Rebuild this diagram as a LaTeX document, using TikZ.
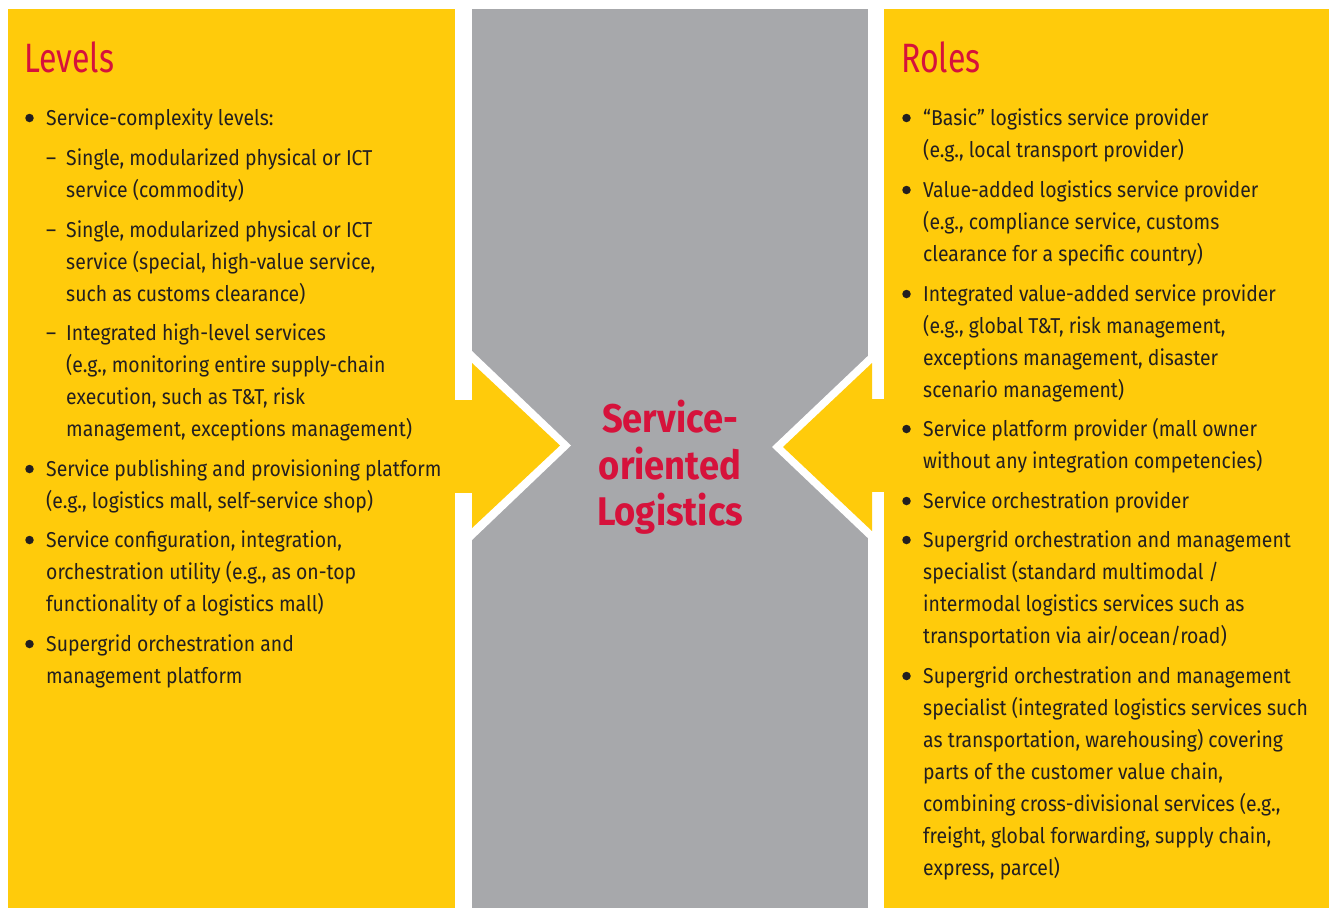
\documentclass[tikz,border=0pt]{standalone}
\usepackage{fontspec}
\setmainfont{Fira Sans}
\definecolor{dhlyellow}{HTML}{FFCB0B}
\definecolor{panelgray}{HTML}{A7A8AB}
\definecolor{dhlred}{HTML}{D6123B}
\definecolor{ink}{HTML}{231F20}
\newfontfamily\bodyraw{Fira Sans}
\newlength\refwa
\newlength\refwb
\newlength\refwc
\newlength\refwd
\settowidth\refwa{\bodyraw\fontsize{21.5}{32}\selectfont Service publishing and provisioning platform}
\settowidth\refwb{\bodyraw\fontsize{21.5}{32}\selectfont Supergrid orchestration and management}
\settowidth\refwc{\bodyraw\fontsize{41}{48}\selectfont Levels}
\settowidth\refwd{\bodyraw\bfseries\fontsize{40}{48}\selectfont Logistics}
\pgfmathsetmacro\sfac{(384+379)/(\refwa+\refwb)}
\pgfmathsetmacro\tfac{90/\refwc}
\pgfmathsetmacro\cfac{146/\refwd}
\edef\tmpload{\noexpand\newfontfamily\noexpand\bodyfont[FakeStretch=\sfac]{Fira Sans}%
  \noexpand\newfontfamily\noexpand\titlefont[FakeStretch=\tfac]{Fira Sans}%
  \noexpand\newfontfamily\noexpand\centrefont[FakeStretch=\cfac]{Fira Sans}}
\tmpload
\tikzset{
  txt/.style={anchor=base west, inner sep=0pt, font=\bodyfont\fontsize{21.5}{32}\selectfont, text=ink},
  ttl/.style={anchor=base west, inner sep=0pt, font=\titlefont\fontsize{41}{48}\selectfont, text=dhlred},
  ctr/.style={anchor=base, inner sep=0pt, font=\centrefont\bfseries\fontsize{40}{48}\selectfont, text=dhlred},
  bul/.style={circle, fill=ink, inner sep=0pt, minimum size=8.5pt},
}
\begin{document}
\begin{tikzpicture}[x=1pt,y=-1pt]
\useasboundingbox (0,0) rectangle (1329,908);
\fill[white] (0,0) rectangle (1329,908);
% panels
\fill[dhlyellow] (8,9) rectangle (455,908);
\fill[panelgray] (472,9) rectangle (868,908);
\fill[dhlyellow] (884,9) rectangle (1329,908);
% left arrow
\fill[white] (472,351) -- (571,445.5) -- (472,540) -- cycle;
\fill[dhlyellow] (472,363) -- (560,445.5) -- (472,528) -- cycle;
\fill[dhlyellow] (454,400) rectangle (473,493);
% right arrow
\fill[white] (872,352) -- (772,447) -- (872,542) -- cycle;
\fill[dhlyellow] (872,363) -- (783,447) -- (872,531) -- cycle;
\fill[dhlyellow] (867,399) rectangle (885,492);
% titles
\node[ttl] (levels) at (24,72) {Levels};
\node[ttl] (roles) at (901,72) {Roles};
% centre
\node[ctr] (c1) at (670,432) {Service-};
\node[ctr] (c2) at (670,479) {oriented};
\node[ctr] (c3) at (670,525) {Logistics};
% left column
\node[bul] (lb1) at (29.5,118) {};
\node[txt] (l1) at (46,125) {Service-complexity levels:};
\node[txt] (ld1) at (46,165) {\char"2013};
\node[txt] (l2) at (66,165) {Single, modularized physical or ICT};
\node[txt] (l3) at (66,197) {service (commodity)};
\node[txt] (ld2) at (46,237) {\char"2013};
\node[txt] (l4) at (66,237) {Single, modularized physical or ICT};
\node[txt] (l5) at (66,269) {service (special, high-value service,};
\node[txt] (l6) at (66,301) {such as customs clearance)};
\node[txt] (ld3) at (46,340) {\char"2013};
\node[txt] (l7) at (66,340) {Integrated high-level services};
\node[txt] (l8) at (66,372) {(e.g., monitoring entire supply-chain};
\node[txt] (l9) at (66,404) {execution, such as T\&T, risk};
\node[txt] (l10) at (66,436) {management, exceptions management)};
\node[bul] (lb2) at (29.5,469) {};
\node[txt] (l11) at (46,476) {Service publishing and provisioning platform};
\node[txt] (l12) at (46,508) {(e.g., logistics mall, self-service shop)};
\node[bul] (lb3) at (29.5,540) {};
\node[txt] (l13) at (46,547) {Service configuration, integration,};
\node[txt] (l14) at (46,579) {orchestration utility (e.g., as on-top};
\node[txt] (l15) at (46,611) {functionality of a logistics mall)};
\node[bul] (lb4) at (29.5,644) {};
\node[txt] (l16) at (46,651) {Supergrid orchestration and};
\node[txt] (l17) at (46,683) {management platform};
% right column
\node[bul] (rb1) at (906.5,118) {};
\node[txt] (r1) at (923,125) {\char"201C Basic\char"201D\ logistics service provider};
\node[txt] (r2) at (923,157) {(e.g., local transport provider)};
\node[bul] (rb2) at (906.5,190) {};
\node[txt] (r3) at (923,197) {Value-added logistics service provider};
\node[txt] (r4) at (923,229) {(e.g., compliance service, customs};
\node[txt] (r5) at (923,261) {clearance for a specific country)};
\node[bul] (rb3) at (906.5,294) {};
\node[txt] (r6) at (923,301) {Integrated value-added service provider};
\node[txt] (r7) at (923,333) {(e.g., global T\&T, risk management,};
\node[txt] (r8) at (923,365) {exceptions management, disaster};
\node[txt] (r9) at (923,397) {scenario management)};
\node[bul] (rb4) at (906.5,429) {};
\node[txt] (r10) at (923,436) {Service platform provider (mall owner};
\node[txt] (r11) at (923,468) {without any integration competencies)};
\node[bul] (rb5) at (906.5,501) {};
\node[txt] (r12) at (923,508) {Service orchestration provider};
\node[bul] (rb6) at (906.5,540) {};
\node[txt] (r13) at (923,547) {Supergrid orchestration and management};
\node[txt] (r14) at (923,579) {specialist (standard multimodal /};
\node[txt] (r15) at (923,611) {intermodal logistics services such as};
\node[txt] (r16) at (923,643) {transportation via air/ocean/road)};
\node[bul] (rb7) at (906.5,676) {};
\node[txt] (r17) at (923,683) {Supergrid orchestration and management};
\node[txt] (r18) at (923,715) {specialist (integrated logistics services such};
\node[txt] (r19) at (923,747) {as transportation, warehousing) covering};
\node[txt] (r20) at (923,779) {parts of the customer value chain,};
\node[txt] (r21) at (923,811) {combining cross-divisional services (e.g.,};
\node[txt] (r22) at (923,843) {freight, global forwarding, supply chain,};
\node[txt] (r23) at (923,875) {express, parcel)};
\end{tikzpicture}
\end{document}
